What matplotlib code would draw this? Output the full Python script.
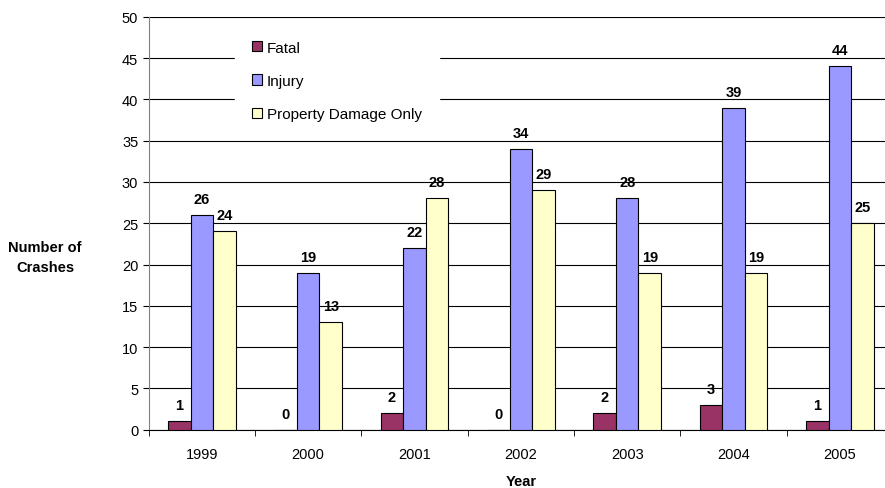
# crashes per year by severity

import numpy as np
import matplotlib.pyplot as plt

years = ['1999', '2000', '2001', '2002', '2003', '2004', '2005']
fatal = [1, 0, 2, 0, 2, 3, 1]
injury = [26, 19, 22, 34, 28, 39, 44]
property_damage = [24, 13, 28, 29, 19, 19, 25]

plt.rcParams['font.family'] = ['Liberation Sans', 'DejaVu Sans']

fig = plt.figure(figsize=(8.85, 4.89), dpi=100)
# plot area runs a little past the right edge of the image, like the original
ax = fig.add_axes([0.168, 0.1192, 0.841, 0.8446])

x = np.arange(len(years))
w = 0.212
series = [('Fatal', fatal, '#993366'),
          ('Injury', injury, '#9999FF'),
          ('Property Damage Only', property_damage, '#FFFFCC')]

for i, (name, vals, col) in enumerate(series):
    bars = ax.bar(x + (i - 1) * w, vals, w, color=col, edgecolor='black',
                  linewidth=0.8, label=name, zorder=3)
    for b, v in zip(bars, vals):
        ax.annotate(str(v), (b.get_x() + b.get_width() / 2, v),
                    xytext=(0, 11.5), textcoords='offset points',
                    ha='center', va='center', fontsize=10.5,
                    fontweight='bold', zorder=4)

ax.set_xlim(-0.5, len(years) - 0.5)
ax.set_ylim(0, 50)
ax.set_yticks(range(0, 51, 5))
ax.yaxis.grid(True, color='black', linewidth=0.8, zorder=0)
ax.set_axisbelow(True)

ax.set_xticks(x)
ax.set_xticklabels(years, fontsize=10.5)
ax.set_xticks(np.arange(-0.5, len(years), 1), minor=True)
ax.tick_params(axis='x', which='major', length=0, pad=12.5)
ax.tick_params(axis='x', which='minor', length=4, direction='out')
ax.tick_params(axis='y', labelsize=10.5, length=4, direction='out')

for s in ['top', 'right']:
    ax.spines[s].set_visible(False)
ax.spines['left'].set_color('#808080')

ax.set_xlabel('Year', fontsize=10.5, fontweight='bold', labelpad=9)
fig.text(0.051, 0.472, 'Number of\nCrashes', ha='center', va='center',
         fontsize=10.5, fontweight='bold', linespacing=1.5)

leg = ax.legend(loc='upper left', bbox_to_anchor=(0.116, 0.983), fontsize=11,
                frameon=True, fancybox=False, edgecolor='white',
                framealpha=1, labelspacing=1.27, handlelength=0.65,
                handleheight=0.65, handletextpad=0.35, borderpad=1.1,
                borderaxespad=0)
leg.set_zorder(5)

fig.savefig('out.png', dpi=100)
